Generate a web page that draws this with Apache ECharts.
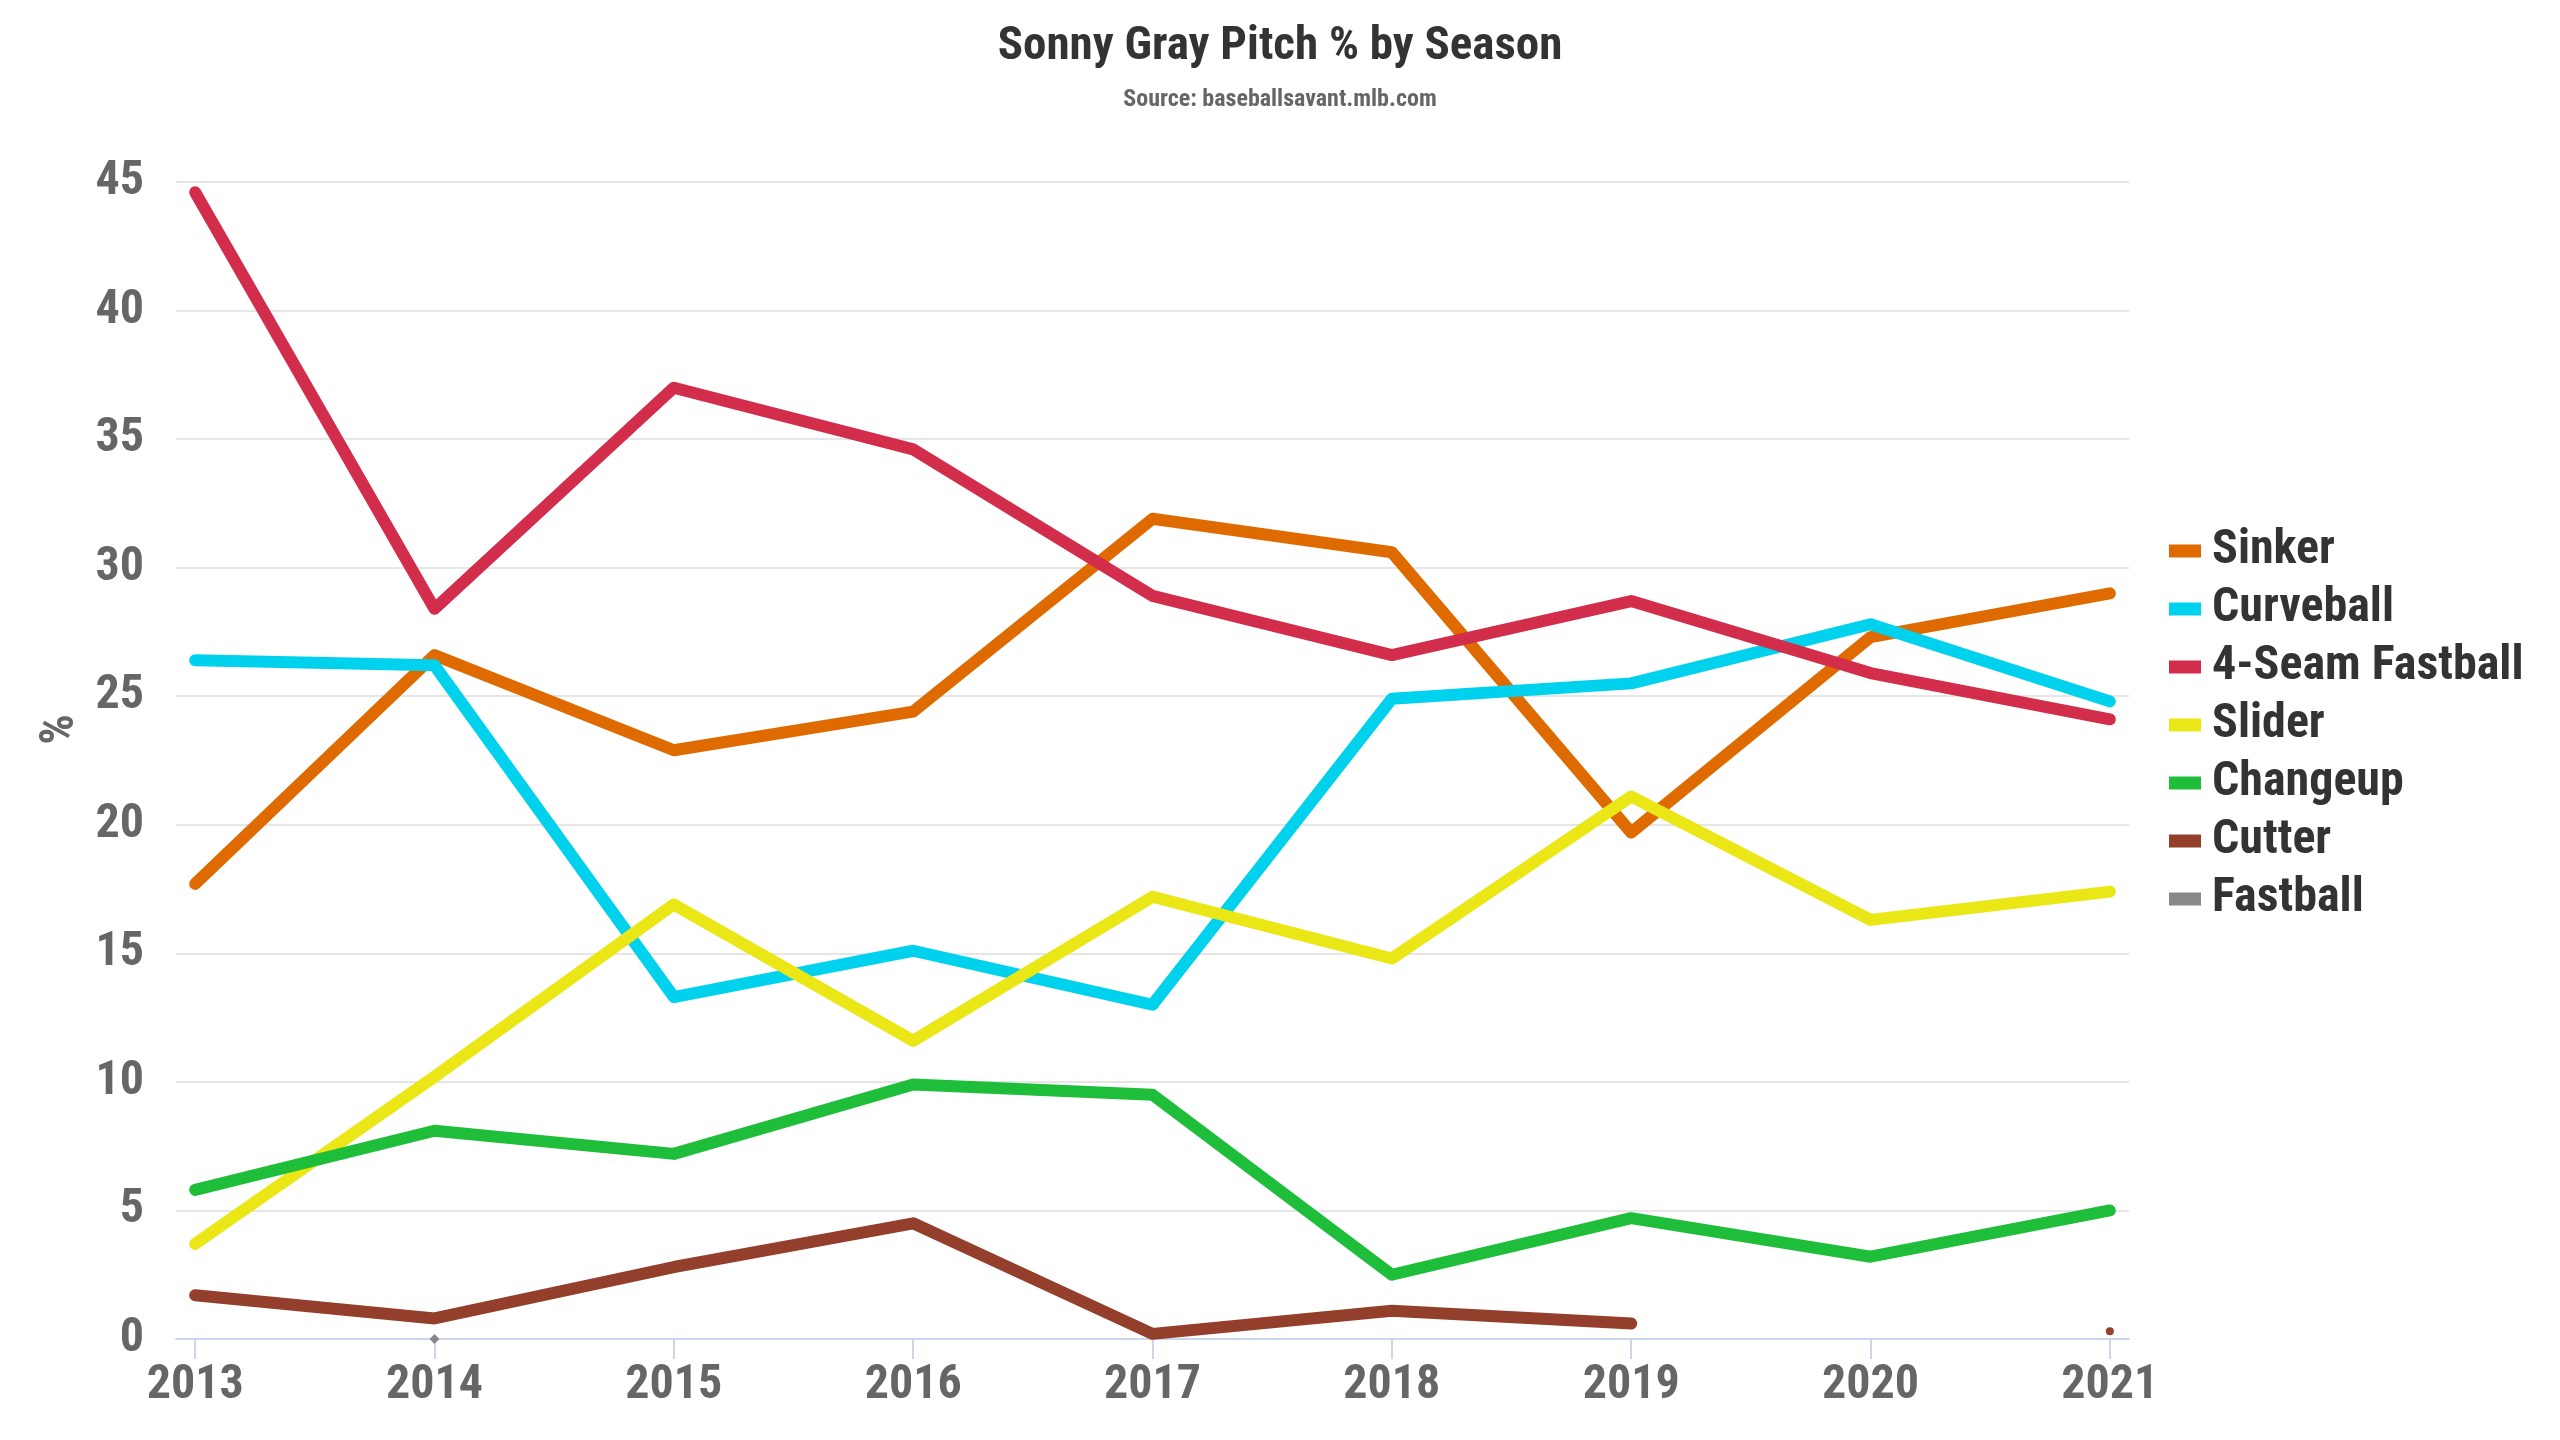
<!DOCTYPE html>
<html>
<head>
<meta charset="utf-8">
<title>Sonny Gray Pitch % by Season</title>
<script src="https://cdn.jsdelivr.net/npm/echarts@6/dist/echarts.min.js"></script>
<style>
  html, body { margin: 0; padding: 0; background: #fff; }
  #main { width: 2560px; height: 1440px; }
</style>
</head>
<body>
<div id="main"></div>
<script>
// seasons on the x axis
var years = [2013, 2014, 2015, 2016, 2017, 2018, 2019, 2020, 2021];
var yTicks = [0, 5, 10, 15, 20, 25, 30, 35, 40, 45];

// pitch usage %
var sinker    = [17.7, 26.6, 22.9, 24.4, 31.9, 30.6, 19.7, 27.3, 29.0];
var curveball = [26.4, 26.2, 13.3, 15.1, 13.0, 24.9, 25.5, 27.8, 24.8];
var fourSeam  = [44.6, 28.4, 37.0, 34.6, 28.9, 26.6, 28.7, 25.9, 24.1];
var slider    = [3.7, 10.2, 16.9, 11.6, 17.2, 14.8, 21.1, 16.3, 17.4];
var changeup  = [5.8, 8.1, 7.2, 9.9, 9.5, 2.5, 4.7, 3.2, 5.0];
var cutter    = [1.7, 0.8, 2.8, 4.5, 0.2, 1.1, 0.6, null, 0.3];
var fastball  = [null, 0.0, null, null, null, null, null, null, null];

var pitchNames  = ['Sinker', 'Curveball', '4-Seam Fastball', 'Slider', 'Changeup', 'Cutter', 'Fastball'];
var pitchValues = [sinker, curveball, fourSeam, slider, changeup, cutter, fastball];
var pitchColors = ['#df6b00', '#00d2ed', '#d22d4b', '#ebe615', '#1ebe3a', '#933f2c', '#888888'];
// marker used only for a lone point (no neighbours)
var loneSymbols = ['circle', 'diamond', 'rect', 'triangle', 'triangle', 'circle', 'diamond'];

var FONT = '"Roboto Condensed", "Liberation Sans Narrow", "DejaVu Sans Condensed", sans-serif';

function toPoints(vals, sym) {
    return vals.map(function (v, i) {
        if (v == null) return [years[i], null];
        var prev = i > 0 ? vals[i - 1] : null;
        var next = i < vals.length - 1 ? vals[i + 1] : null;
        if (prev == null && next == null) {
            return { value: [years[i], v], symbol: sym, symbolSize: sym == 'circle' ? 8 : 10 };
        }
        return [years[i], v];
    });
}

var dom = document.getElementById('main');
var myChart = echarts.init(dom);

var series = pitchNames.map(function (name, k) {
    return {
        name: name,
        type: 'line',
        data: toPoints(pitchValues[k], loneSymbols[k]),
        symbol: 'none',
        connectNulls: false,
        color: pitchColors[k],
        lineStyle: { width: 12, cap: 'round', join: 'round', color: pitchColors[k] },
        itemStyle: { color: pitchColors[k] },
        emphasis: { disabled: true }
    };
});

var option = {
    animation: false,
    backgroundColor: '#ffffff',
    title: {
        text: 'Sonny Gray Pitch % by Season',
        subtext: 'Source: baseballsavant.mlb.com',
        left: 'center',
        top: 19,
        itemGap: 17,
        textStyle: { fontFamily: FONT, fontSize: 47, fontWeight: 'bold', color: '#333333' },
        subtextStyle: { fontFamily: FONT, fontSize: 24, fontWeight: 'bold', color: '#666666' }
    },
    legend: {
        orient: 'vertical',
        left: 2164,
        top: 522,
        itemWidth: 32,
        itemHeight: 13,
        itemGap: 10,
        icon: 'rect',
        data: pitchNames,
        textStyle: {
            fontFamily: FONT, fontSize: 48, fontWeight: 'bold', color: '#333333',
            lineHeight: 46, padding: [0, 0, 0, 6]
        }
    },
    grid: { left: 176, right: 431, top: 182, bottom: 101, containLabel: false },
    xAxis: {
        type: 'value',
        min: 2012.92,
        max: 2021.08,
        axisLine: { show: true, lineStyle: { color: '#ccd6eb', width: 2 } },
        axisTick: { show: true, length: 20, customValues: years, lineStyle: { color: '#ccd6eb', width: 2 } },
        axisLabel: {
            customValues: years,
            margin: 23,
            fontFamily: FONT, fontSize: 48, fontWeight: 'bold', color: '#666666',
            formatter: function (v) { return String(v); }
        },
        splitLine: { show: false }
    },
    yAxis: {
        type: 'value',
        min: yTicks[0],
        max: yTicks[yTicks.length - 1],
        interval: 5,
        name: '%',
        nameLocation: 'middle',
        nameGap: 88,
        nameTextStyle: { fontFamily: FONT, fontSize: 48, fontWeight: 'bold', color: '#666666', padding: [0, 0, 0, 62] },
        axisLine: { show: false },
        axisTick: { show: false },
        axisLabel: { margin: 32, fontFamily: FONT, fontSize: 48, fontWeight: 'bold', color: '#666666' },
        splitLine: { show: true, lineStyle: { color: '#e6e6e6', width: 2 } }
    },
    series: series
};

if (option && typeof option === 'object') {
    myChart.setOption(option, true);
}
</script>
</body>
</html>
